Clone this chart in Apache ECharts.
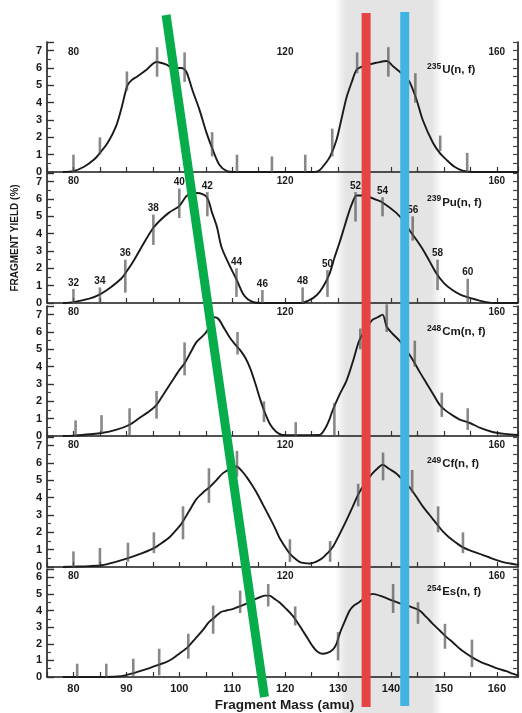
<!DOCTYPE html>
<html>
<head>
<meta charset="utf-8">
<title>Fragment yield vs. fragment mass</title>
<script src="https://cdn.jsdelivr.net/npm/echarts@6/dist/echarts.min.js"></script>
<style>
  html, body { margin: 0; padding: 0; background: #fff; }
  #chart { width: 522px; height: 713px; }
</style>
</head>
<body>
<div id="chart"></div>
<script>
// ---- Axis tick labels -------------------------------------------------------
const massLabelsPanel = [80, 120, 160];
const massLabelsBottom = [80, 90, 100, 110, 120, 130, 140, 150, 160];

// ---- Reactions (isotope mass number + element) -----------------------------
const reactionIsotopes = ['235', '239', '248', '249', '254'];
const reactionElements = ['U', 'Pu', 'Cm', 'Cf', 'Es'];

// ---- Yield curves: [fragment mass (amu), yield (%)] ---------------------------
const u235Curve = [
  [78, 0], [80, 0.05], [82, 0.3], [84, 0.75], [85, 1.1], [86.5, 1.7], [88, 2.6], [89, 3.6],
  [90.2, 5.0], [91, 5.3], [92, 5.5], [93.8, 5.9], [95.7, 6.35], [97.6, 6.2], [98.7, 6.0],
  [100.4, 6.0], [101.3, 5.8], [102.5, 4.7], [103.8, 3.6], [105.1, 2.3], [106.3, 1.3],
  [107.6, 0.4], [109, 0.05], [110.5, 0], [120, 0], [125.5, 0], [126.5, 0.1], [127.5, 0.45],
  [128.5, 0.9], [129.7, 1.85], [130.6, 3.0], [131.6, 4.3], [132.6, 5.2], [133.5, 5.9],
  [134.6, 6.1], [135.8, 6.2], [137.2, 6.3], [139.2, 6.4], [140.4, 6.1], [141.6, 5.8],
  [142.6, 5.5], [143.5, 5.2], [144.8, 4.2], [146, 3.0], [147.9, 1.7], [149.2, 1.1],
  [150.5, 0.7], [152, 0.3], [153.5, 0.08], [155.5, 0], [164, 0]
];
const pu239Curve = [
  [78, 0], [80, 0.05], [83, 0.25], [85, 0.5], [87, 0.9], [89, 1.4], [90, 1.8], [91.5, 2.5],
  [93, 3.3], [95, 4.3], [96.5, 4.8], [98, 5.2], [100, 5.6], [101.5, 6.2], [103.4, 6.35],
  [105.2, 6.1], [106.2, 5.2], [107.1, 4.4], [108, 3.2], [109.6, 2.1], [110.9, 1.3],
  [112, 0.55], [113, 0.2], [114.2, 0.03], [115.5, 0], [123, 0], [124.5, 0.15], [126, 0.46],
  [127.2, 0.95], [128.4, 1.7], [129.3, 2.6], [130.3, 3.5], [131.2, 4.4], [131.8, 5.0],
  [132.6, 5.7], [133.5, 6.2], [134.6, 6.2], [136, 6.1], [137.3, 5.95], [138.4, 5.8],
  [141, 5.2], [142.3, 4.75], [143.5, 4.2], [144.8, 3.65], [146, 3.1], [147.3, 2.4],
  [148.6, 1.7], [150, 1.15], [151.6, 0.75], [153, 0.5], [154.3, 0.35], [156, 0.2],
  [158, 0.05], [160, 0], [164, 0]
];
const cm248Curve = [
  [78, 0], [80, 0.02], [83, 0.1], [85.3, 0.17], [88, 0.35], [90.6, 0.65], [92.5, 1.05],
  [94.2, 1.4], [95.7, 1.8], [97, 2.4], [98.7, 3.2], [100, 3.8], [101, 4.2], [102.1, 4.8],
  [103.2, 5.4], [104.2, 5.7], [105.1, 6.0], [105.9, 6.45], [106.6, 6.85], [107.4, 6.75],
  [108.5, 6.2], [109.5, 5.7], [110.5, 5.3], [111.5, 4.95], [112.5, 4.5], [113.4, 3.9],
  [114.4, 3.0], [115.3, 2.1], [116.3, 1.25], [117.3, 0.6], [118.3, 0.25], [119.5, 0.06],
  [122, 0.05], [126.5, 0.06], [127.5, 0.4], [128.3, 0.9], [129, 1.5], [130.3, 2.4],
  [131.6, 3.2], [132.8, 4.3], [134, 5.5], [135.3, 6.2], [136.5, 6.7], [137.5, 6.85],
  [138.4, 7.0], [139.2, 6.3], [140.3, 5.9], [141.6, 5.5], [142.8, 5.0], [144.1, 4.4],
  [145.4, 3.7], [146.7, 3.05], [148, 2.4], [149.2, 1.8], [150.4, 1.45], [151.6, 1.2],
  [153, 0.95], [154.9, 0.75], [157, 0.45], [159.2, 0.23], [161.5, 0.12], [164, 0.06]
];
const cf249Curve = [
  [78, 0], [80, 0.02], [83, 0.05], [85.3, 0.1], [88, 0.3], [90.2, 0.5], [93, 0.8],
  [95.3, 1.1], [97, 1.45], [98.1, 1.7], [99.3, 2.1], [100.4, 2.5], [101.8, 3.2],
  [103.2, 3.9], [104.5, 4.3], [105.7, 4.6], [107, 5.0], [108.2, 5.4], [109.5, 5.65],
  [110.8, 5.8], [111.8, 5.55], [112.7, 5.2], [113.7, 4.75], [114.6, 4.3], [115.8, 3.6],
  [117, 2.9], [118, 2.3], [118.9, 1.7], [119.9, 1.2], [120.8, 0.8], [121.8, 0.5],
  [122.7, 0.3], [123.7, 0.22], [124.6, 0.2], [125.8, 0.3], [127, 0.5], [128, 0.8],
  [129, 1.15], [130.3, 1.9], [131.6, 2.7], [132.8, 3.5], [134, 4.3], [135.3, 4.9],
  [136.5, 5.4], [137.5, 5.7], [138.4, 5.9], [139.7, 5.65], [141, 5.4], [142.3, 5.0],
  [143.5, 4.6], [144.8, 4.05], [146, 3.5], [147.3, 3.0], [148.6, 2.5], [149.8, 2.05],
  [151, 1.7], [152.3, 1.4], [153.5, 1.15], [155.4, 0.9], [157.3, 0.7], [159, 0.5],
  [161, 0.3], [162.5, 0.2], [164, 0.12]
];
const es254Curve = [
  [78, 0], [80.5, 0], [86, 0], [89, 0.05], [91, 0.2], [93, 0.4], [94.5, 0.55], [96.2, 0.75],
  [97.5, 0.9], [98.7, 1.1], [100, 1.4], [101.6, 1.8], [103, 2.3], [104.4, 2.8], [105.6, 3.3],
  [106.7, 3.6], [107.8, 3.9], [108.9, 4.0], [110.2, 4.1], [111.4, 4.25], [112.6, 4.4],
  [113.8, 4.6], [115.2, 4.8], [116.2, 4.9], [117, 4.9], [118, 4.7], [118.9, 4.5],
  [120.2, 4.1], [121.4, 3.7], [122.3, 3.3], [123.3, 2.8], [124.3, 2.3], [125.2, 1.85],
  [126, 1.55], [127, 1.4], [128, 1.45], [129, 1.65], [129.7, 2.0], [130.3, 2.6],
  [131.2, 3.3], [132.2, 4.0], [133, 4.3], [134, 4.5], [135.2, 4.8], [136.5, 5.0],
  [138.3, 4.85], [140.3, 4.6], [142, 4.4], [143.5, 4.25], [145.4, 4.0], [146.7, 3.6],
  [147.9, 3.2], [149.2, 2.8], [150.5, 2.4], [151.8, 2.05], [153, 1.7], [154.3, 1.4],
  [155.5, 1.15], [157, 0.9], [158.6, 0.7], [160.2, 0.5], [161.8, 0.35], [163, 0.2], [164, 0.1]
];

// ---- Error bars: [fragment mass, low, high] --------------------------------------
const u235Bars = [
  [80, 0, 1.0], [85, 1.0, 2.0], [90.1, 4.7, 5.8], [95.8, 5.5, 7.2], [101, 5.2, 6.9],
  [106.2, 0.9, 2.3], [110.9, 0, 1.0], [117.5, 0, 0.9], [123.8, 0, 1.0], [128.9, 0.9, 2.5],
  [133.6, 5.7, 6.9], [139.5, 5.5, 7.2], [144.6, 4.0, 5.7], [149.3, 1.2, 2.1], [154.4, 0, 1.1]
];
const pu239Bars = [
  [80, 0, 0.8], [85, 0, 0.9], [89.8, 0.6, 2.5], [95.1, 3.35, 5.1], [100, 4.9, 6.6],
  [105.3, 5.0, 6.4], [110.8, 0.35, 2.0], [115.7, 0, 0.75], [123.3, 0, 0.9], [128, 0.35, 1.9],
  [133.3, 4.7, 6.4], [138.4, 5.0, 6.1], [144.1, 3.6, 5.0], [148.8, 0.75, 2.5], [154.5, 0, 1.4]
];
const pu239BarTags = ['32', '34', '36', '38', '40', '42', '44', '46', '48', '50', '52', '54', '56', '58', '60'];
const cm248Bars = [
  [80.4, 0, 0.9], [85.3, 0.17, 1.2], [90.6, 0, 1.6], [95.7, 1.0, 2.6], [101, 3.5, 5.4],
  [111, 4.7, 6.0], [116, 0.8, 2.0], [122, 0, 0.8], [129.3, 0, 1.9], [134.2, 5.0, 6.2],
  [139.2, 6.0, 7.6], [144.5, 4.0, 5.5], [149.6, 1.1, 2.5], [154.5, 0.35, 1.6]
];
const cf249Bars = [
  [80, 0, 0.9], [85, 0.1, 1.1], [90.3, 0.3, 1.4], [95.2, 0.8, 2.0], [100.7, 1.6, 3.5],
  [105.6, 3.7, 5.7], [110.9, 5.2, 6.7], [120.9, 0.3, 1.6], [128.5, 0.3, 1.5],
  [133.8, 3.5, 4.8], [138.5, 5.0, 6.6], [144, 4.3, 5.6], [148.9, 2.0, 3.5], [153.6, 0.8, 2.0]
];
const es254Bars = [
  [80.7, 0, 0.8], [86.2, 0, 0.8], [91.3, 0, 1.1], [96.2, 0.1, 1.7], [101.7, 1.1, 2.6],
  [106.4, 2.6, 4.3], [111.5, 3.85, 5.2], [116.8, 4.25, 5.6], [121.9, 3.1, 4.25],
  [130, 1.0, 2.7], [140.4, 3.85, 5.6], [145.1, 3.2, 4.5], [150.2, 1.7, 3.2], [155.3, 0.6, 2.25]
];

// ---- Highlight markers across all panels (fragment mass) --------------------------
const shadedMassRange = [130.4, 148.7];
const redMarkerMass = 135.3;
const blueMarkerMass = 142.6;
const greenTrendMass = [97.5, 116.1];

const curves = [u235Curve, pu239Curve, cm248Curve, cf249Curve, es254Curve];
const bars = [u235Bars, pu239Bars, cm248Bars, cf249Bars, es254Bars];

// ---- Layout ------------------------------------------------------------------
const panelTop = [42, 173, 306, 437, 569];
const panelHeight = [130, 130, 130, 130, 113];
const panelYMax = [7.5, 7.5, 7.5, 7.5, 6.5];
const labelYAnchor = [5.9, 5.8, 6.0, 5.95, 5.1];
const FONT = 'Liberation Sans, Arial, sans-serif';
const INK = '#1a1a1a';

const chart = echarts.init(document.getElementById('chart'));

const grids = panelTop.map((t, i) => ({ left: 47, right: 4, top: t, height: panelHeight[i] }));

const xAxes = panelTop.map((t, i) => {
  const last = i === panelTop.length - 1;
  const shown = last ? massLabelsBottom : massLabelsPanel;
  return {
    gridIndex: i, type: 'value', min: 75, max: 164, interval: 5,
    axisLine: { show: true, onZero: false, lineStyle: { color: INK, width: 1.6 } },
    axisTick: { show: true, inside: true, length: 5, lineStyle: { color: '#333', width: 1.2 } },
    axisLabel: {
      formatter: v => (shown.indexOf(v) >= 0 ? String(v) : ''),
      fontFamily: FONT, fontWeight: 'bold', fontSize: last ? 11 : 10, color: INK, margin: last ? 6 : 4
    },
    splitLine: { show: false },
    name: last ? 'Fragment Mass (amu)' : '',
    nameLocation: 'middle', nameGap: 21,
    nameTextStyle: { fontFamily: FONT, fontWeight: 'bold', fontSize: 13.5, color: INK, padding: [0, 0, 0, 4] }
  };
});
// top scale of the first panel, labels drawn inside
xAxes.push({
  gridIndex: 0, type: 'value', position: 'top', min: 75, max: 164, interval: 5,
  axisLine: { show: false }, axisTick: { show: false }, splitLine: { show: false },
  axisLabel: {
    inside: true, margin: 5,
    formatter: v => (massLabelsPanel.indexOf(v) >= 0 ? String(v) : ''),
    fontFamily: FONT, fontWeight: 'bold', fontSize: 10, color: INK
  }
});

const yLeft = panelTop.map((t, i) => ({
  gridIndex: i, type: 'value', min: 0, max: panelYMax[i], interval: 1,
  axisLine: { show: true, lineStyle: { color: INK, width: 1.6 } },
  axisTick: { show: true, inside: true, length: 7, lineStyle: { color: '#333', width: 1.4 } },
  minorTick: { show: true, splitNumber: 2, length: 4, lineStyle: { color: '#444', width: 1.2 } },
  axisLabel: {
    formatter: v => (Number.isInteger(v) ? String(v) : ''),
    fontFamily: FONT, fontWeight: 'bold', fontSize: 11, color: INK, margin: 5
  },
  splitLine: { show: false }, minorSplitLine: { show: false },
  name: i === 1 ? 'FRAGMENT YIELD (%)' : '',
  nameLocation: 'middle', nameRotate: 90, nameGap: 27,
  nameTextStyle: { fontFamily: FONT, fontWeight: 'bold', fontSize: 10, color: INK }
}));
const yRight = panelTop.map((t, i) => ({
  gridIndex: i, type: 'value', position: 'right', min: 0, max: panelYMax[i], interval: 0.5,
  axisLine: { show: true, lineStyle: { color: INK, width: 1.6 } },
  axisTick: { show: true, inside: true, length: 5, lineStyle: { color: '#444', width: 1.2 } },
  axisLabel: { show: false }, splitLine: { show: false }
}));

function errorBar(panel) {
  return function (params, api) {
    const m = api.value(0);
    const hi = api.coord([m, api.value(2)]);
    const lo = api.coord([m, api.value(1)]);
    const children = [{
      type: 'line',
      shape: { x1: hi[0], y1: hi[1], x2: lo[0], y2: lo[1] },
      style: { stroke: 'rgba(85,85,85,0.7)', lineWidth: 2.6 }
    }];
    if (panel === 1) {
      children.push({
        type: 'text',
        style: {
          text: pu239BarTags[params.dataIndex], x: hi[0], y: hi[1] - 1,
          align: 'center', verticalAlign: 'bottom',
          font: 'bold 10px ' + FONT, fill: INK
        }
      });
    }
    return { type: 'group', children };
  };
}

const series = [];
curves.forEach((c, i) => {
  series.push({
    type: 'line', xAxisIndex: i, yAxisIndex: i, data: c,
    smooth: 0.3, symbol: 'none', clip: false,
    lineStyle: { color: INK, width: 1.9 }, z: 3, animation: false
  });
  series.push({
    type: 'custom', xAxisIndex: i, yAxisIndex: i, data: bars[i],
    renderItem: errorBar(i), clip: false, z: 4, animation: false
  });
});

chart.setOption({
  backgroundColor: '#fff',
  animation: false,
  grid: grids,
  xAxis: xAxes,
  yAxis: yLeft.concat(yRight),
  series
});

// ---- Overlays: reaction labels, shaded band, marker lines ---------------------------
const px = m => chart.convertToPixel({ xAxisIndex: 0 }, m);
const graphics = [];

reactionIsotopes.forEach((iso, i) => {
  const p = chart.convertToPixel({ gridIndex: i }, [146.8, labelYAnchor[i]]);
  graphics.push({
    type: 'text', x: p[0], y: p[1], z: 20,
    style: {
      text: '{s|' + iso + '}{m|' + reactionElements[i] + '(n, f)}',
      verticalAlign: 'middle',
      rich: {
        s: { fontFamily: FONT, fontWeight: 'bold', fontSize: 8.5, fill: INK, padding: [0, 1, 7, 0] },
        m: { fontFamily: FONT, fontWeight: 'bold', fontSize: 11.5, fill: INK }
      }
    }
  });
});

const bandL = px(shadedMassRange[0]) - 5;
const bandR = px(shadedMassRange[1]) + 5;
graphics.push({
  type: 'rect', z: -10, silent: true,
  shape: { x: bandL, y: 0, width: bandR - bandL, height: 713 },
  style: {
    fill: new echarts.graphic.LinearGradient(0, 0, 1, 0, [
      { offset: 0, color: 'rgba(228,228,228,0)' },
      { offset: 0.1, color: 'rgba(228,228,228,1)' },
      { offset: 0.9, color: 'rgba(228,228,228,1)' },
      { offset: 1, color: 'rgba(228,228,228,0)' }
    ])
  }
});

const redX = px(redMarkerMass);
const blueX = px(blueMarkerMass);
graphics.push({
  type: 'line', z: 50, silent: true,
  shape: { x1: redX, y1: 13, x2: redX, y2: 707 },
  style: { stroke: '#e64345', lineWidth: 9 }
});
graphics.push({
  type: 'line', z: 50, silent: true,
  shape: { x1: blueX, y1: 12, x2: blueX, y2: 706 },
  style: { stroke: '#40b5e2', lineWidth: 9 }
});
graphics.push({
  type: 'line', z: 50, silent: true,
  shape: { x1: px(greenTrendMass[0]), y1: 15, x2: px(greenTrendMass[1]), y2: 697 },
  style: { stroke: '#08ad4b', lineWidth: 9, lineCap: 'butt' }
});

chart.setOption({ graphic: graphics });
</script>
</body>
</html>
